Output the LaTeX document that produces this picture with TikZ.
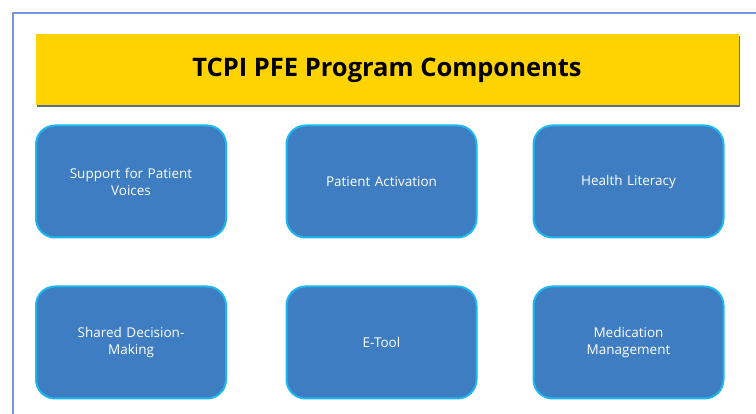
\documentclass[tikz,border=0pt]{standalone}
\usepackage{fontspec}
\setmainfont{Open Sans}
\definecolor{framec}{HTML}{7394DA}
\definecolor{bannerc}{HTML}{FFD300}
\definecolor{shadowc}{HTML}{5E6E86}
\definecolor{boxc}{HTML}{3E7DC1}
\definecolor{boxedge}{HTML}{1DB6EE}
\tikzset{
  comp/.style={draw=boxedge, line width=2pt, fill=boxc, rounded corners=19pt,
    minimum width=190pt, minimum height=112pt, text width=170pt, align=center,
    text=white, font=\fontsize{13.5}{17}\selectfont},
}
\begin{document}
\begin{tikzpicture}[x=1pt, y=-1pt]
			\useasboundingbox (0,0) rectangle (756,414);
			\fill[white] (0,0) rectangle (756,414);
			% outer frame, cut at the right and bottom
			\draw[framec, line width=1.6pt] (13,414)--(13,13)--(756,13);
			% title banner with its shadow
			\fill[shadowc] (37,36) rectangle (740,107);
			\fill[bannerc] (36,34) rectangle (739,105);
			\node (title) at (387,70) {\fontsize{25.5}{26}\selectfont\bfseries TCPI PFE Program Components};
			% first row
			\node[comp] (voices) at (131,181.5) {Support for Patient\\Voices};
			\node[comp] (activation) at (381.5,181.5) {Patient Activation};
			\node[comp] (literacy) at (628.5,181.5) {Health Literacy};
			% second row
			\node[comp] (decision) at (131,342.5) {Shared Decision-\\Making};
			\node[comp] (etool) at (381.5,342.5) {E-Tool};
			\node[comp] (medication) at (628.5,342.5) {Medication\\Management};
		\end{tikzpicture}
\end{document}
